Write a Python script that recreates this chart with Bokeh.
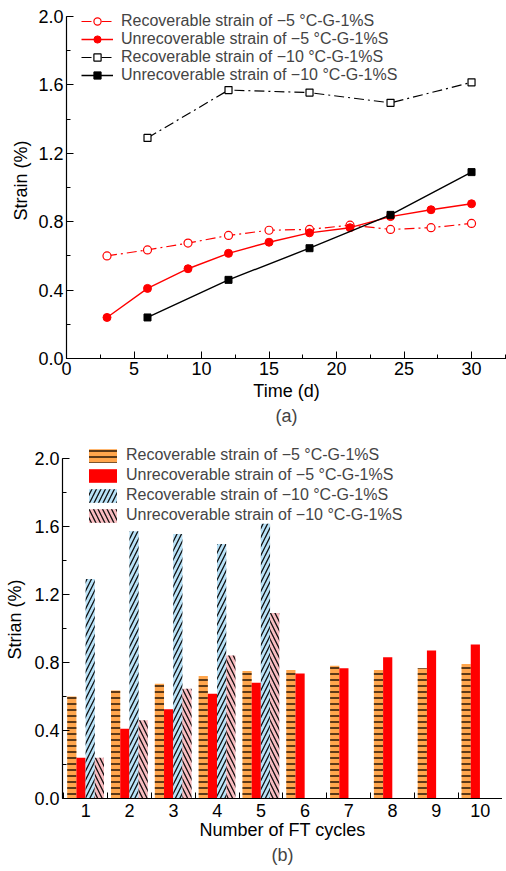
from bokeh.plotting import figure
from bokeh.models import (Legend, LegendItem, SingleIntervalTicker, FixedTicker,
                          Title, Range1d, NumeralTickFormatter, ColumnDataSource)
from bokeh.transform import dodge
from bokeh.layouts import column
from bokeh.embed import file_html
from bokeh.resources import INLINE

# ---------------- data ----------------
days_5 = [3, 6, 9, 12, 15, 18, 21, 24, 27, 30]
rec_5 = [0.60, 0.635, 0.675, 0.72, 0.75, 0.755, 0.78, 0.755, 0.765, 0.79]
unrec_5 = [0.24, 0.41, 0.525, 0.615, 0.68, 0.735, 0.765, 0.83, 0.87, 0.905]
days_10 = [6, 12, 18, 24, 30]
rec_10 = [1.29, 1.57, 1.555, 1.495, 1.615]
unrec_10 = [0.24, 0.46, 0.645, 0.84, 1.09]
cycles = [1, 2, 3, 4, 5, 6, 7, 8, 9, 10]
cycles_10 = [1, 2, 3, 4, 5]
labels = ["Recoverable strain of \u22125 \u00b0C-G-1%S",
          "Unrecoverable strain of \u22125 \u00b0C-G-1%S",
          "Recoverable strain of \u221210 \u00b0C-G-1%S",
          "Unrecoverable strain of \u221210 \u00b0C-G-1%S"]

FONT = "Liberation Sans"
TICK_FS = "18px"
LAB_FS = "18px"
LEG_FS = "16px"


def style_axes(p):
    p.outline_line_color = None
    p.xgrid.visible = False
    p.ygrid.visible = False
    for ax in (p.xaxis[0], p.yaxis[0]):
        ax.axis_line_color = "black"
        ax.axis_line_width = 1.2
        ax.major_tick_line_color = "black"
        ax.minor_tick_line_color = "black"
        ax.major_tick_in = 7
        ax.major_tick_out = 0
        ax.minor_tick_in = 4
        ax.minor_tick_out = 0
        ax.major_label_text_font = FONT
        ax.major_label_text_font_size = TICK_FS
        ax.major_label_text_color = "black"
        ax.axis_label_text_font = FONT
        ax.axis_label_text_font_size = LAB_FS
        ax.axis_label_text_font_style = "normal"
        ax.axis_label_text_color = "black"
        ax.major_label_standoff = 3
    p.yaxis.axis_label_standoff = 4


# ---------------- (a) ----------------
p1 = figure(width=506, height=430, x_range=Range1d(0, 32.59), y_range=Range1d(0, 2.082),
            output_backend="svg", toolbar_location=None,
            min_border_top=2, min_border_left=66, min_border_right=0, min_border_bottom=72)
style_axes(p1)
p1.xaxis.ticker = SingleIntervalTicker(interval=5, num_minor_ticks=2)
p1.yaxis.ticker = SingleIntervalTicker(interval=0.4, num_minor_ticks=2)
p1.yaxis.formatter = NumeralTickFormatter(format="0.0")
p1.yaxis.bounds = (0, 2.0)
p1.xaxis.axis_label = "Time (d)"
p1.yaxis.axis_label = "Strain (%)"
p1.xaxis.major_label_standoff = 3
p1.xaxis.axis_label_standoff = 3

dd = "10 4 2 4"
l1 = p1.line(days_5, rec_5, line_color="red", line_width=1.2, line_dash=dd)
s1 = p1.scatter(days_5, rec_5, marker="circle", size=8, fill_color="white", line_color="red", line_width=1.2)
l2 = p1.line(days_5, unrec_5, line_color="red", line_width=1.4)
s2 = p1.scatter(days_5, unrec_5, marker="circle", size=8, fill_color="red", line_color="red")
l3 = p1.line(days_10, rec_10, line_color="black", line_width=1.2, line_dash=dd)
s3 = p1.scatter(days_10, rec_10, marker="square", size=7, fill_color="white", line_color="black", line_width=1.2)
l4 = p1.line(days_10, unrec_10, line_color="black", line_width=1.4)
s4 = p1.scatter(days_10, unrec_10, marker="square", size=7, fill_color="black", line_color="black")

leg1 = Legend(items=[LegendItem(label=labels[0], renderers=[l1, s1]),
                     LegendItem(label=labels[1], renderers=[l2, s2]),
                     LegendItem(label=labels[2], renderers=[l3, s3]),
                     LegendItem(label=labels[3], renderers=[l4, s4])],
              location=(15, 274), padding=0, margin=0, spacing=0,
              glyph_width=32, glyph_height=18, label_height=18, label_standoff=8,
              label_text_font=FONT, label_text_font_size=LEG_FS,
              border_line_color=None, background_fill_alpha=0)
p1.add_layout(leg1, "center")
p1.add_layout(Title(text="(a)", align="center", text_font=FONT, text_font_size=LAB_FS,
                    text_font_style="normal", standoff=0), "below")

# ---------------- (b) ----------------
src5 = ColumnDataSource(dict(x=cycles, rec=rec_5, unrec=unrec_5))
src10 = ColumnDataSource(dict(x=cycles_10, rec=rec_10, unrec=unrec_10))

p2 = figure(width=506, height=440, x_range=Range1d(0.468, 10.51), y_range=Range1d(0, 2.104),
            output_backend="svg", toolbar_location=None, margin=(0, 0, 0, -4),
            min_border_top=10, min_border_left=66, min_border_right=0, min_border_bottom=72)
style_axes(p2)
p2.xaxis.ticker = FixedTicker(ticks=cycles, minor_ticks=[c + 0.5 for c in [0] + cycles])
p2.xaxis.major_tick_in = 0
p2.xaxis.minor_tick_in = 6
p2.yaxis.ticker = SingleIntervalTicker(interval=0.4, num_minor_ticks=2)
p2.yaxis.formatter = NumeralTickFormatter(format="0.0")
p2.yaxis.bounds = (0, 2.0)
p2.xaxis.axis_label = "Number of FT cycles"
p2.yaxis.axis_label = "Strian (%)"
p2.yaxis.axis_label_standoff = 6
p2.xaxis.major_label_standoff = 5
p2.xaxis.axis_label_standoff = 0

W = 0.21
b1 = p2.vbar(x=dodge("x", -0.32, range=p2.x_range), top="rec", width=W, source=src5,
             fill_color="#ffa64d", line_color=None, hatch_pattern="horizontal_line",
             hatch_color="#3f250c", hatch_scale=6, hatch_weight=1.7)
b2 = p2.vbar(x=dodge("x", -0.11, range=p2.x_range), top="unrec", width=W, source=src5,
             fill_color="#ff0000", line_color=None)
b3 = p2.vbar(x=dodge("x", 0.10, range=p2.x_range), top="rec", width=W, source=src10,
             fill_color="#b8e2f8", line_color=None, hatch_pattern="right_diagonal_line",
             hatch_color="#111111", hatch_scale=9, hatch_weight=1.3)
b4 = p2.vbar(x=dodge("x", 0.31, range=p2.x_range), top="unrec", width=W, source=src10,
             fill_color="#f9bcc0", line_color=None, hatch_pattern="left_diagonal_line",
             hatch_color="#111111", hatch_scale=9, hatch_weight=1.3)

leg2 = Legend(items=[LegendItem(label=labels[0], renderers=[b1]),
                     LegendItem(label=labels[1], renderers=[b2]),
                     LegendItem(label=labels[2], renderers=[b3]),
                     LegendItem(label=labels[3], renderers=[b4])],
              location=(23, 274), padding=0, margin=0, spacing=2,
              glyph_width=35, glyph_height=17, label_height=17, label_standoff=6,
              label_text_font=FONT, label_text_font_size=LEG_FS,
              border_line_color=None, background_fill_alpha=0)
p2.add_layout(leg2, "center")
p2.add_layout(Title(text="(b)", align="center", text_font=FONT, text_font_size=LAB_FS,
                    text_font_style="normal", standoff=0), "below")

layout = column(p1, p2, spacing=0)
open("out.html", "w").write(file_html(layout, INLINE))
